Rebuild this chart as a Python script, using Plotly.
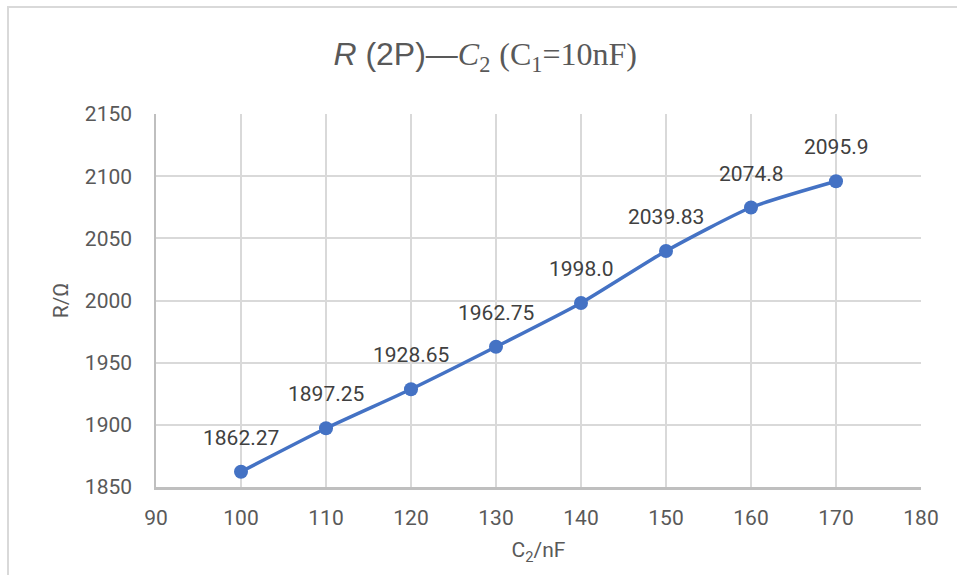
import plotly.graph_objects as go

c2 = [100, 110, 120, 130, 140, 150, 160, 170]
r_vals = [1862.27, 1897.25, 1928.65, 1962.75, 1998.0, 2039.83, 2074.8, 2095.9]
labels = ["1862.27", "1897.25", "1928.65", "1962.75", "1998.0", "2039.83", "2074.8", "2095.9"]
x_ticks = [90, 100, 110, 120, 130, 140, 150, 160, 170, 180]
y_ticks = [1850, 1900, 1950, 2000, 2050, 2100, 2150]

W, H = 957, 575
L, R, T, B = 156, 36, 114, 88

font = "Roboto, Liberation Sans, sans-serif"

fig = go.Figure()
fig.add_trace(go.Scatter(
    x=c2, y=r_vals, mode="lines+markers",
    line=dict(color="#4472C4", width=3.5, shape="spline", smoothing=0.6),
    marker=dict(color="#4472C4", size=14),
    cliponaxis=False, showlegend=False,
))

for xv, yv, lab in zip(c2, r_vals, labels):
    fig.add_annotation(
        x=xv, y=yv, text=lab, showarrow=False,
        yshift=34, xanchor="center", yanchor="middle",
        font=dict(family=font, size=21, color="#404040"),
    )

fig.update_layout(
    width=W, height=H,
    margin=dict(l=L, r=R, t=T, b=B, pad=0),
    paper_bgcolor="white", plot_bgcolor="white",
    title=dict(
        text="<i>R</i> (2P)—<i><span style='font-family:Liberation Serif'>C</span></i><sub><span style='font-family:Liberation Serif'>2</span></sub> "
             "<span style='font-family:Liberation Serif'>(C<sub>1</sub>=10nF)</span>",
        x=0.507, xref="container", xanchor="center",
        y=1 - 54 / H, yref="container", yanchor="middle",
        font=dict(family="Liberation Sans, sans-serif", size=32, color="#595959"),
    ),
    xaxis=dict(
        range=[90, 180], tickvals=x_ticks, ticktext=[str(v) for v in x_ticks],
        showgrid=True, gridcolor="#D9D9D9", gridwidth=1.5,
        showline=True, linecolor="#BFBFBF", linewidth=3,
        zeroline=False, ticks="", ticklabelstandoff=10,
        tickfont=dict(family=font, size=21, color="#595959"),
        title=dict(text="C<sub>2</sub>/nF", font=dict(family=font, size=21, color="#595959"), standoff=14),
    ),
    yaxis=dict(
        range=[1850, 2150], tickvals=y_ticks,
        showgrid=True, gridcolor="#D9D9D9", gridwidth=1.5,
        showline=True, linecolor="#BFBFBF", linewidth=1.5,
        zeroline=False, ticks="", ticklabelstandoff=18,
        tickfont=dict(family=font, size=21, color="#595959"),
        title=dict(text="R/Ω", font=dict(family=font, size=21, color="#595959"), standoff=10),
    ),
)

# outer chart border (Excel-style), extends past the window on right/bottom
fig.add_shape(
    type="rect", xref="paper", yref="paper",
    x0=(8 - L) / (W - L - R), x1=(W + 20 - L) / (W - L - R),
    y0=-(B + 20) / (H - T - B), y1=1 + (T - 7) / (H - T - B),
    line=dict(color="#D9D9D9", width=2), layer="below",
)

fig.write_html("out.html")
